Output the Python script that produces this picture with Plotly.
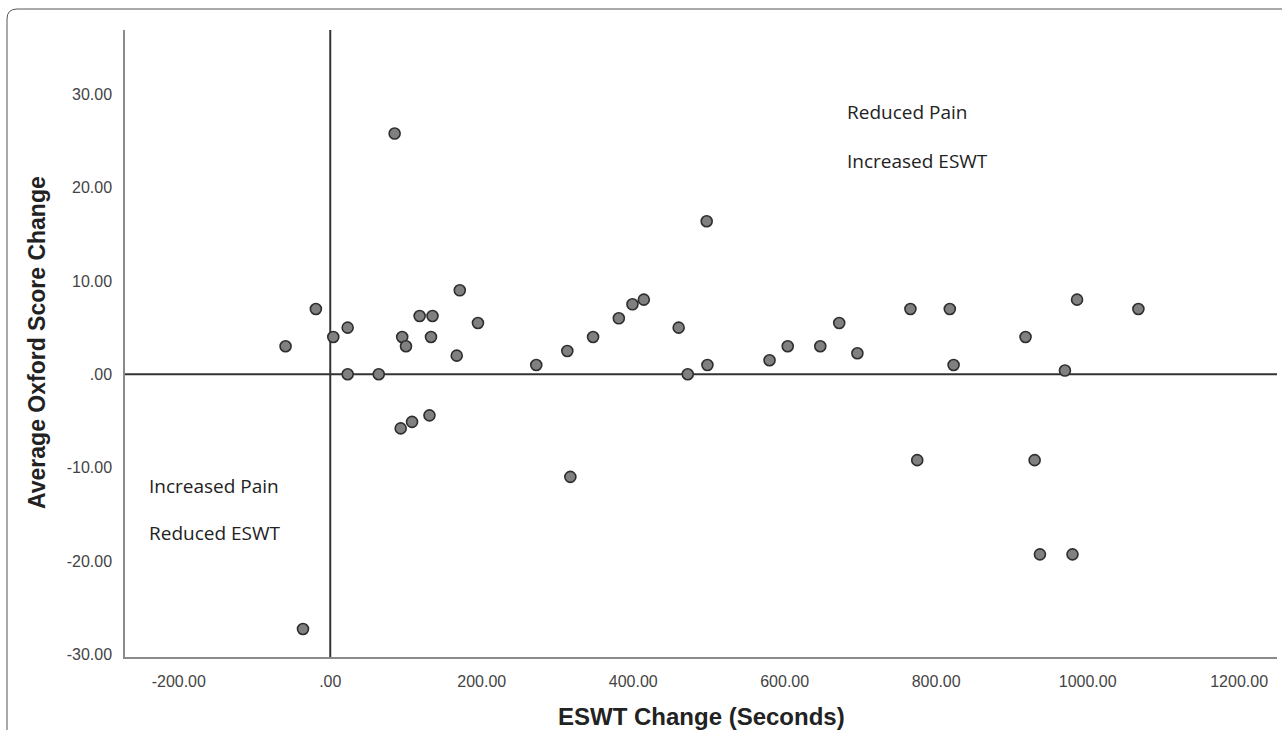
import plotly.graph_objects as go

# ---- data ----
eswt_change = [
    -59, -19, 4, 23, 23, 64, 85, 95, 100, 118, 135, 133, 167, 171, 195,
    93, 108, 131, -36,
    272, 313, 317, 347, 381, 399, 414, 460, 472, 497, 498,
    580, 604, 647, 672, 696,
    766, 818, 823, 775, 918, 930, 937, 970, 980, 986, 1067,
]
oxford_change = [
    3.0, 7.0, 4.0, 5.0, 0.0, 0.0, 25.8, 4.0, 3.0, 6.25, 6.25, 4.0, 2.0, 9.0, 5.5,
    -5.8, -5.1, -4.4, -27.3,
    1.0, 2.5, -11.0, 4.0, 6.0, 7.5, 8.0, 5.0, 0.0, 16.4, 1.0,
    1.5, 3.0, 3.0, 5.5, 2.25,
    7.0, 7.0, 1.0, -9.2, 4.0, -9.2, -19.3, 0.4, -19.3, 8.0, 7.0,
]
x_ticks = [-200, 0, 200, 400, 600, 800, 1000, 1200]
x_tick_labels = ["-200.00", ".00", "200.00", "400.00", "600.00", "800.00", "1000.00", "1200.00"]
y_ticks = [-30, -20, -10, 0, 10, 20, 30]
y_tick_labels = ["-30.00", "-20.00", "-10.00", ".00", "10.00", "20.00", "30.00"]

quadrant_labels = [
    (680, 28.1, "Reduced Pain"),
    (680, 22.9, "Increased ESWT"),
    (-242, -11.95, "Increased Pain"),
    (-242, -17.0, "Reduced ESWT"),
]

W, H = 1282, 730
L, R, T, B = 125, 5, 30, 73
pw, ph = W - L - R, H - T - B


def px(x):
    return (x - L) / pw


def py(y):
    return (H - B - y) / ph


fig = go.Figure()
fig.add_trace(go.Scatter(
    x=eswt_change, y=oxford_change, mode="markers",
    marker=dict(size=11, color="#808080", line=dict(color="#2e2e2e", width=1.6)),
    showlegend=False, hoverinfo="x+y",
))

tick_font = dict(family="Liberation Sans, Arial, sans-serif", size=16, color="#444444")

fig.update_xaxes(
    range=[-271, 1250], tickvals=x_ticks, ticktext=x_tick_labels,
    showgrid=False, zeroline=False, showline=True, linecolor="#8a8a8a", linewidth=1.5,
    ticks="", tickfont=tick_font, ticklabelstandoff=9,
)
fig.update_yaxes(
    range=[-30.3, 36.9], tickvals=y_ticks, ticktext=y_tick_labels,
    showgrid=False, zeroline=False, showline=True, linecolor="#8a8a8a", linewidth=1.5,
    ticks="", tickfont=tick_font, ticklabelstandoff=8,
)

# reference lines at x=0 and y=0
fig.add_shape(type="line", xref="x", yref="paper", x0=0, x1=0, y0=0, y1=1,
              line=dict(color="#333333", width=2), layer="below")
fig.add_shape(type="line", xref="paper", yref="y", x0=0, x1=1, y0=0, y1=0,
              line=dict(color="#333333", width=2), layer="below")

# rounded frame around figure
r = 10
fx0, fy0 = 7, 9
path = (f"M {px(fx0)},{py(H + 5)} L {px(fx0)},{py(fy0 + r)} "
        f"Q {px(fx0)},{py(fy0)} {px(fx0 + r)},{py(fy0)} L {px(W + 5)},{py(fy0)}")
fig.add_shape(type="path", xref="paper", yref="paper", path=path,
              line=dict(color="#555555", width=1))

ann_font = dict(family="Open Sans, sans-serif", size=19, color="#222222")
for x, y, t in quadrant_labels:
    fig.add_annotation(x=x, y=y, xref="x", yref="y", text=t, showarrow=False,
                       xanchor="left", yanchor="middle", font=ann_font)

title_font = dict(family="Liberation Sans, Arial, sans-serif", size=24, color="#222222")
fig.add_annotation(x=px(701), y=py(716), xref="paper", yref="paper",
                   text="<b>ESWT Change (Seconds)</b>", showarrow=False,
                   xanchor="center", yanchor="middle", font=title_font)
fig.add_annotation(x=px(37), y=py(343), xref="paper", yref="paper",
                   text="<b>Average Oxford Score Change</b>", showarrow=False, textangle=-90,
                   xanchor="center", yanchor="middle",
                   font=dict(family="Liberation Sans, Arial, sans-serif", size=23, color="#222222"))

fig.update_layout(
    width=W, height=H, margin=dict(l=L, r=R, t=T, b=B),
    paper_bgcolor="white", plot_bgcolor="white",
)

fig.write_html("out.html")
